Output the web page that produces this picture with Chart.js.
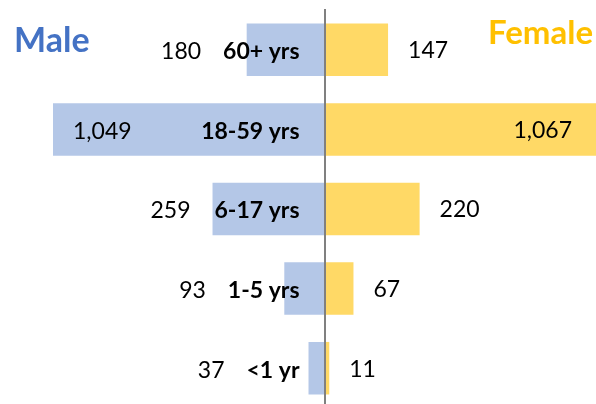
<!DOCTYPE html>
<html><head><meta charset="utf-8">
<script src="https://cdn.jsdelivr.net/npm/chart.js@4"></script>
<style>
html,body{margin:0;padding:0;background:#fff;overflow:hidden;width:596px;height:404px}
#wrap{position:relative;width:596px;height:408px}
canvas{display:block}
</style></head><body>
<div id="wrap"><canvas id="c" width="596" height="408"></canvas></div>
<script>
const categories = ['60+ yrs', '18-59 yrs', '6-17 yrs', '1-5 yrs', '<1 yr'];
const maleValues = [180, 1049, 259, 93, 37];
const femaleValues = [147, 1067, 220, 67, 11];
const seriesNames = ['Male', 'Female'];
const axisLimit = 628;

const MALE_BAR = '#B4C7E7', FEMALE_BAR = '#FFD966';
const MALE_TXT = '#4472C4', FEMALE_TXT = '#FFC000';
const FONT = 'Lato';
const CAT_SIZE = 23;
const VAL_SIZE = 23;
const CAT_GAP = 25;

const fmt = v => v.toLocaleString('en-US');

const valueLabels = {
  id: 'valueLabels',
  afterDatasetsDraw(chart) {
    const ctx = chart.ctx, area = chart.chartArea;
    const zero = chart.scales.x.getPixelForValue(0);
    ctx.save();
    ctx.fillStyle = '#000';
    ctx.textBaseline = 'middle';
    chart.getDatasetMeta(0).data.forEach((el, i) => {
      const txt = fmt(maleValues[i]);
      const y = el.y + 2;
      ctx.font = `bold ${CAT_SIZE}px ${FONT}`;
      const catLeft = zero - CAT_GAP - ctx.measureText(categories[i]).width;
      ctx.font = `${VAL_SIZE}px ${FONT}`;
      if (el.x < area.left) {
        ctx.textAlign = 'left';
        ctx.fillText(txt, area.left + 20, y);
      } else {
        ctx.textAlign = 'right';
        ctx.fillText(txt, Math.min(el.x, catLeft) - 22, y);
      }
    });
    chart.getDatasetMeta(1).data.forEach((el, i) => {
      const txt = fmt(femaleValues[i]);
      const y = el.y + 1;
      ctx.font = `${VAL_SIZE}px ${FONT}`;
      if (el.x > area.right) {
        ctx.textAlign = 'right';
        ctx.fillText(txt, area.right - 24, y);
      } else {
        ctx.textAlign = 'left';
        ctx.fillText(txt, el.x + 20, y);
      }
    });
    ctx.restore();
  },
  afterDraw(chart) {
    const ctx = chart.ctx;
    const zero = chart.scales.x.getPixelForValue(0);
    ctx.save();
    ctx.fillStyle = '#000';
    ctx.textBaseline = 'middle';
    ctx.textAlign = 'right';
    ctx.font = `bold ${CAT_SIZE}px ${FONT}`;
    chart.getDatasetMeta(0).data.forEach((el, i) => {
      ctx.fillText(categories[i], zero - CAT_GAP, el.y + 2);
    });
    ctx.textBaseline = 'alphabetic';
    ctx.textAlign = 'left';
    ctx.fillStyle = MALE_TXT;
    ctx.font = `bold 34px ${FONT}`;
    ctx.fillText(seriesNames[0], 14, 52);
    ctx.textAlign = 'right';
    ctx.fillStyle = FEMALE_TXT;
    ctx.font = `bold 33px ${FONT}`;
    ctx.fillText(seriesNames[1], 593, 44);
    ctx.restore();
  }
};

new Chart(document.getElementById('c'), {
  type: 'bar',
  data: {
    labels: categories,
    datasets: [
      {label: seriesNames[0], data: maleValues.map(v => -v), backgroundColor: MALE_BAR},
      {label: seriesNames[1], data: femaleValues, backgroundColor: FEMALE_BAR}
    ]
  },
  options: {
    indexAxis: 'y',
    responsive: false,
    devicePixelRatio: 1,
    animation: false,
    layout: {padding: {left: 53, right: 0, top: 10, bottom: 0}},
    datasets: {bar: {categoryPercentage: 1, barPercentage: 0.66}},
    plugins: {legend: {display: false}, tooltip: {enabled: false}},
    scales: {
      x: {type: 'linear', min: -axisLimit, max: axisLimit, stacked: true, display: false},
      y: {
        type: 'category',
        stacked: true,
        offset: true,
        position: {x: 0},
        grid: {display: false, drawOnChartArea: false, drawTicks: false},
        border: {display: true, color: '#808080', width: 2, z: 1},
        ticks: {display: false}
      }
    }
  },
  plugins: [valueLabels]
});
</script>
</body></html>
